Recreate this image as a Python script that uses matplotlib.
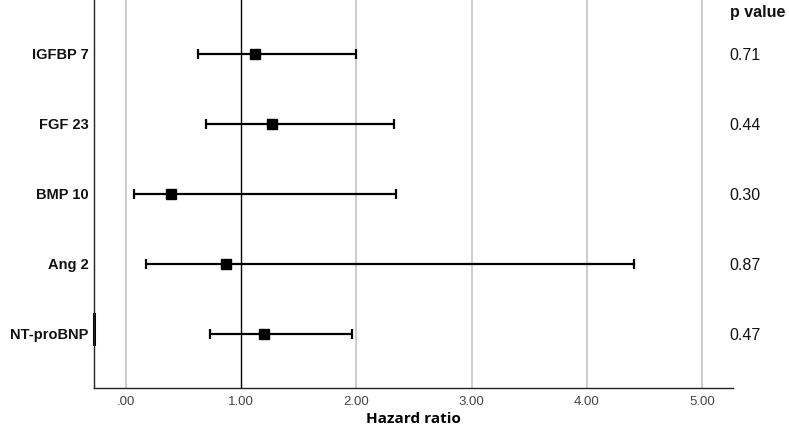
import numpy as np
import matplotlib.pyplot as plt
from matplotlib.transforms import blended_transform_factory

markers = ["IGFBP 7", "FGF 23", "BMP 10", "Ang 2", "NT-proBNP"]
hr = [1.12, 1.27, 0.385, 0.87, 1.20]
ci_low = [0.625, 0.69, 0.064, 0.17, 0.73]
ci_high = [2.00, 2.33, 2.34, 4.41, 1.96]
p_values = ["0.71", "0.44", "0.30", "0.87", "0.47"]
xticks = [0, 1, 2, 3, 4, 5]
xtick_labels = [".00", "1.00", "2.00", "3.00", "4.00", "5.00"]

fig = plt.figure(figsize=(7.89, 4.31), dpi=100)
ax = fig.add_axes([0.1191, 0.0974, 0.8099, 0.9026])

ypos = np.arange(len(markers))[::-1]
hr = np.array(hr)
err = [hr - np.array(ci_low), np.array(ci_high) - hr]

for t in xticks:
    if t != 1:
        ax.axvline(t, color='#c8c8c8', lw=1.3, zorder=0)
ax.axvline(1, color='black', lw=1.0, zorder=1)

ax.errorbar(hr, ypos, xerr=err, fmt='s', color='black', ms=7,
            ecolor='black', elinewidth=1.6, capsize=3.3, capthick=1.6, zorder=3)

ax.set_xlim(-0.28, 5.27)
ax.set_ylim(-0.77, 4.79)
ax.set_xticks(xticks)
ax.set_xticklabels(xtick_labels, family='Liberation Sans', fontsize=9.5, color='#444444')
ax.tick_params(axis='x', length=0, pad=5)
ax.set_yticks([])
for s in ['top', 'right']:
    ax.spines[s].set_visible(False)
for s in ['left', 'bottom']:
    ax.spines[s].set_linewidth(1.0)
    ax.spines[s].set_color('#222222')

ax.set_xlabel("Hazard ratio", family='Open Sans', fontweight='bold', fontsize=11, labelpad=3)

trans = blended_transform_factory(ax.transAxes, ax.transData)
for y, name, p in zip(ypos, markers, p_values):
    ax.text(-0.008, y, name, transform=trans, ha='right', va='center',
            family='Liberation Sans', fontweight='bold', fontsize=10.5, color='#111111')
    ax.text(0.995, y, p, transform=trans, ha='left', va='center',
            family='Liberation Sans', fontsize=11.5, color='#111111')
ax.text(0.995, 4.61, "p value", transform=trans, ha='left', va='center',
        family='Liberation Sans', fontweight='bold', fontsize=11.5, color='#111111')

# thicker piece of the left axis beside the last label
ax.plot([0, 0], [-0.14, 0.29], transform=trans, color='black', lw=2.2, clip_on=False)

fig.savefig("out.png", dpi=100)
